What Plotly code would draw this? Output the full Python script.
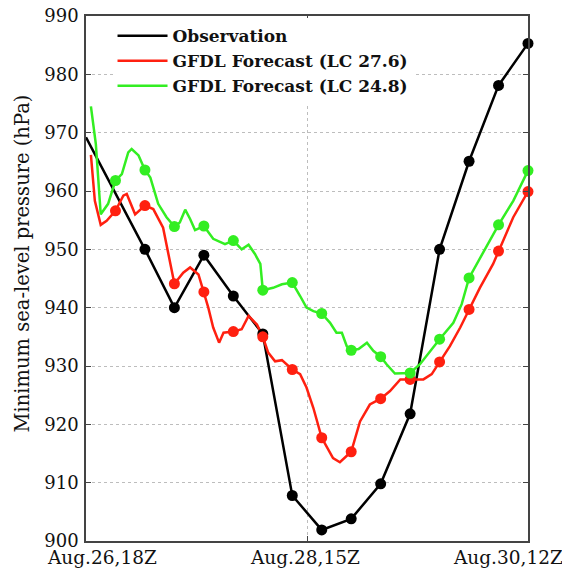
import plotly.graph_objects as go

# ---------------- data ----------------
xtick_hours = [0, 45, 90]
xtick_labels = ["Aug.26,18Z", "Aug.28,15Z", "Aug.30,12Z"]
y_title = "Minimum sea-level pressure (hPa)"

obs_hours = [0, 12, 18, 24, 30, 36, 42, 48, 54, 60, 66, 72, 78, 84, 90]
obs_p = [969.2, 950.0, 940.0, 949.0, 942.0, 935.5, 907.8, 901.9, 903.8,
         909.8, 921.8, 950.0, 965.1, 978.1, 985.3]

red_hours = [1.0, 1.8, 3.0, 4.2, 6, 7.6, 8.3, 10.0, 12, 13.7, 15.7, 17.1, 18,
             19.8, 21.2, 22.9, 24, 24.9, 25.9, 27.1, 28.0, 30, 31.7, 33.1, 34.8,
             36, 37.1, 38.5, 39.9, 42, 43.6, 44.9, 46.3, 48, 50.3, 51.7, 54,
             55.8, 57.8, 60, 61.9, 64.0, 66, 68.7, 70.4, 72, 74.1, 76.2, 78,
             80.2, 82.9, 84, 87.0, 90]
red_p = [966.2, 958.3, 954.2, 954.9, 956.6, 959.2, 959.5, 956.0, 957.5, 956.9,
         953.7, 948.0, 944.1, 946.0, 946.9, 945.7, 942.7, 940.0, 936.6, 934.0,
         935.7, 935.9, 936.3, 938.6, 937.1, 935.0, 932.3, 930.8, 931.0, 929.4,
         928.6, 926.3, 922.8, 917.7, 914.2, 913.5, 915.3, 920.5, 923.4, 924.4,
         925.7, 927.7, 927.7, 927.7, 928.6, 930.7, 933.4, 936.6, 939.7, 943.4,
         947.5, 949.7, 955.5, 959.9]

green_hours = [1.0, 2.0, 3.0, 4.5, 6, 7.3, 8.6, 9.3, 10.7, 12, 13.1, 14.7, 16.4,
               18, 19.1, 20.2, 21.2, 22.2, 24, 25.9, 28.3, 30, 31.7, 33.1, 34.4,
               35.5, 36, 38.1, 39.9, 42, 43.6, 44.9, 46.3, 48, 49.7, 51.0, 52.1,
               53.1, 54, 55.5, 57.2, 58.5, 60, 61.2, 62.9, 64.6, 66, 68.0, 70.1,
               72, 74.8, 76.5, 78, 79.6, 84, 87.0, 90]
green_p = [974.5, 968.1, 956.0, 957.8, 961.8, 962.9, 966.6, 967.2, 966.1, 963.6,
           962.3, 957.8, 955.5, 953.9, 954.6, 956.8, 955.2, 953.3, 954.0, 951.8,
           950.9, 951.5, 950.0, 950.8, 949.2, 947.5, 943.0, 943.4, 944.0, 944.3,
           942.0, 940.0, 939.4, 939.0, 937.4, 935.7, 935.7, 933.4, 932.7, 932.9,
           934.0, 932.6, 931.6, 930.3, 928.7, 928.7, 928.8, 930.3, 932.6, 934.6,
           937.4, 940.6, 945.1, 947.5, 954.2, 958.3, 963.5]

series_names = ["Observation", "GFDL Forecast (LC 27.6)", "GFDL Forecast (LC 24.8)"]
# --------------------------------------

BLACK = "#000000"
RED = "#ff2010"
GREEN = "#33ee22"
FONT = "DejaVu Serif"

def six_hourly(hours, vals, start=6):
    hs, vs = [], []
    for h, v in zip(hours, vals):
        if h >= start and abs(h / 6 - round(h / 6)) < 1e-9:
            hs.append(h)
            vs.append(v)
    return hs, vs

fig = go.Figure()

series = [
    (obs_hours, obs_p, BLACK, series_names[0], 12),
    (red_hours, red_p, RED, series_names[1], 6),
    (green_hours, green_p, GREEN, series_names[2], 6),
]

for hours, vals, col, name, start in series:
    fig.add_trace(go.Scatter(x=hours, y=vals, mode="lines",
                             line=dict(color=col, width=2.5),
                             name="<b>" + name + "</b>", showlegend=True,
                             cliponaxis=False))
for hours, vals, col, name, start in series:
    mh, mv = six_hourly(hours, vals, start)
    fig.add_trace(go.Scatter(x=mh, y=mv, mode="markers",
                             marker=dict(color=col, size=11),
                             showlegend=False, cliponaxis=False))

axis_common = dict(showline=True, linecolor="#444444", linewidth=1.5, mirror="ticks",
                   ticks="inside", ticklen=5, tickcolor="#444444", zeroline=False,
                   gridcolor="#bdbdbd", griddash="dot", gridwidth=1,
                   automargin=False)

fig.update_xaxes(range=[0, 90], tickvals=xtick_hours, showticklabels=False,
                 showgrid=True, **axis_common)
fig.update_yaxes(range=[900, 990], dtick=10, tick0=900, showgrid=True,
                 tickfont=dict(family=FONT, size=18, color="#111"),
                 ticklabelstandoff=2, ticklabeloverflow="allow",
                 **axis_common)

# y-axis title as a rotated text
fig.add_annotation(x=0, xref="paper", y=0.5, yref="paper", text=y_title,
                   textangle=-90, showarrow=False, xanchor="center", yanchor="middle",
                   xshift=-64, yshift=15,
                   font=dict(family=FONT, size=19.5, color="#111"))

anchors = ["left", "center", "right"]
shifts = [-41, -2, 37]
for h, lab, an, sh in zip(xtick_hours, xtick_labels, anchors, shifts):
    fig.add_annotation(x=h, xref="x", y=0, yref="paper", text=lab,
                       showarrow=False, xanchor=an, yanchor="top",
                       xshift=sh, yshift=-4,
                       font=dict(family=FONT, size=18.5, color="#111"))

# page body adds an 8px offset; figure is sized so the plot lands where the reference has it
fig.update_layout(
    width=562, height=562,
    margin=dict(l=78, r=42, t=8, b=29),
    paper_bgcolor="white", plot_bgcolor="white",
    showlegend=True,
    legend=dict(x=0.06, y=0.996, xanchor="left", yanchor="top",
                bgcolor="white", borderwidth=0,
                font=dict(family=FONT, size=17, color="#111"),
                itemwidth=50, tracegroupgap=0),
)

fig.write_html("out.html")
